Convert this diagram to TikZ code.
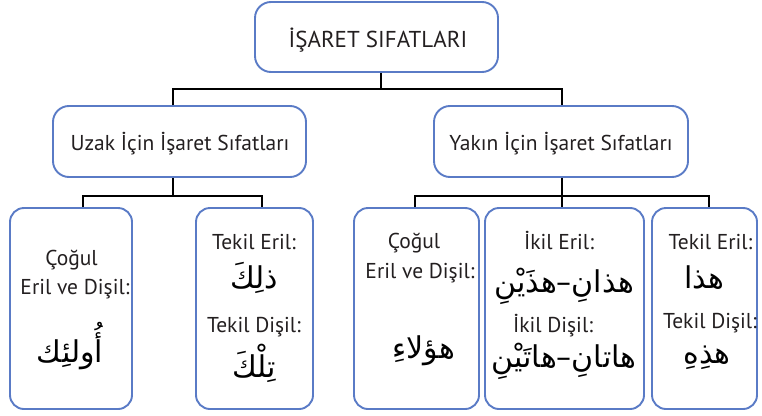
\documentclass[tikz,border=0pt]{standalone}
\usepackage{fontspec}
\setmainfont{PT Sans}
\newfontfamily\arabicfont[Script=Arabic]{DejaVu Sans}
\TeXXeTstate=1
\definecolor{bb}{HTML}{5A7BC6}
\definecolor{tx}{HTML}{231F20}
\newcommand\lblsize{\fontsize{21.5}{24}\selectfont}
\newcommand\arsize{\fontsize{30}{34}\selectfont}
\begin{document}
\begin{tikzpicture}[x=1pt,y=-1pt,
  box/.style={draw=bb,line width=1.9pt,rounded corners=16pt,inner sep=0pt},
  sbox/.style={box,rounded corners=14pt,minimum height=201pt},
  lbl/.style={text=tx,font=\lblsize,inner sep=1pt,anchor=base},
  ar/.style={text=black,font=\arabicfont\arsize,inner sep=1pt,anchor=base},
  link/.style={line width=1.6pt,black}]
\useasboundingbox (0,0) rectangle (762,415);
% boxes
\node[box,minimum width=243pt,minimum height=70pt] (top) at (376.5,37) {};
\node[box,minimum width=253pt,minimum height=71pt] (uzak) at (179.5,141.5) {};
\node[box,minimum width=254pt,minimum height=71pt] (yakin) at (561,141.5) {};
\node[sbox,minimum width=122pt] (b1) at (71,308.5) {};
\node[sbox,minimum width=117pt] (b2) at (254.5,308.5) {};
\node[sbox,minimum width=125pt] (b3) at (416.5,308.5) {};
\node[sbox,minimum width=159pt] (b4) at (564.5,308.5) {};
\node[sbox,minimum width=105pt] (b5) at (704.5,308.5) {};
% connectors
\coordinate (j0) at (381,89);
\coordinate (j1) at (173,196);
\coordinate (j2) at (562,196);
\draw[link] (top.south -| j0) -- (j0);
\draw[link] ([xshift=-6.5pt]uzak.north) |- (j0) -| ([xshift=1pt]yakin.north);
\draw[link] (uzak.south -| j1) -- (j1);
\draw[link] ([xshift=12pt]b1.north) |- (j1) -| ([xshift=7.5pt]b2.north);
\draw[link] (yakin.south -| j2) -- (j2);
\draw[link] ([xshift=-1.5pt]b3.north) |- (j2) -| ([xshift=4.5pt]b5.north);
\draw[link] (j2) -- (j2 |- b4.north);
% header texts
\node[lbl,font=\fontsize{23}{26}\selectfont] (t0) at (378,47) {İŞARET SIFATLARI};
\node[lbl] (t1) at (180,150) {Uzak İçin İşaret Sıfatları};
\node[lbl] (t2) at (561,150) {Yakın İçin İşaret Sıfatları};
% box 1
\node[lbl] (b1a) at (71.5,265) {Çoğul};
\node[lbl] (b1b) at (75,294) {Eril ve Dişil:};
\node[ar] (b1c) at (70,362) {\beginR أُولئِك\endR};
% box 2
\node[lbl] (b2a) at (254,249) {Tekil Eril:};
\node[ar] (b2b) at (254,288) {\beginR ذلِكَ\endR};
\node[lbl] (b2c) at (254,332) {Tekil Dişil:};
\node[ar] (b2d) at (254,377) {\beginR تِلْكَ\endR};
% box 3
\node[lbl] (b3a) at (414,248) {Çoğul};
\node[lbl] (b3b) at (420,278) {Eril ve Dişil:};
\node[ar] (b3c) at (424,358) {\beginR هؤلاءِ\endR};
% box 4
\node[lbl] (b4a) at (559,249) {İkil Eril:};
\node[ar] (b4b) at (564,292) {\beginR هذانِ–هذَيْنِ\endR};
\node[lbl] (b4c) at (553,332) {İkil Dişil:};
\node[ar] (b4d) at (564,367) {\beginR هاتانِ–هاتَيْنِ\endR};
% box 5
\node[lbl] (b5a) at (710.5,249) {Tekil Eril:};
\node[ar] (b5b) at (704,288) {\beginR هذا\endR};
\node[lbl] (b5c) at (710,328) {Tekil Dişil:};
\node[ar] (b5d) at (707,363) {\beginR هذِهِ\endR};
\end{tikzpicture}
\end{document}
